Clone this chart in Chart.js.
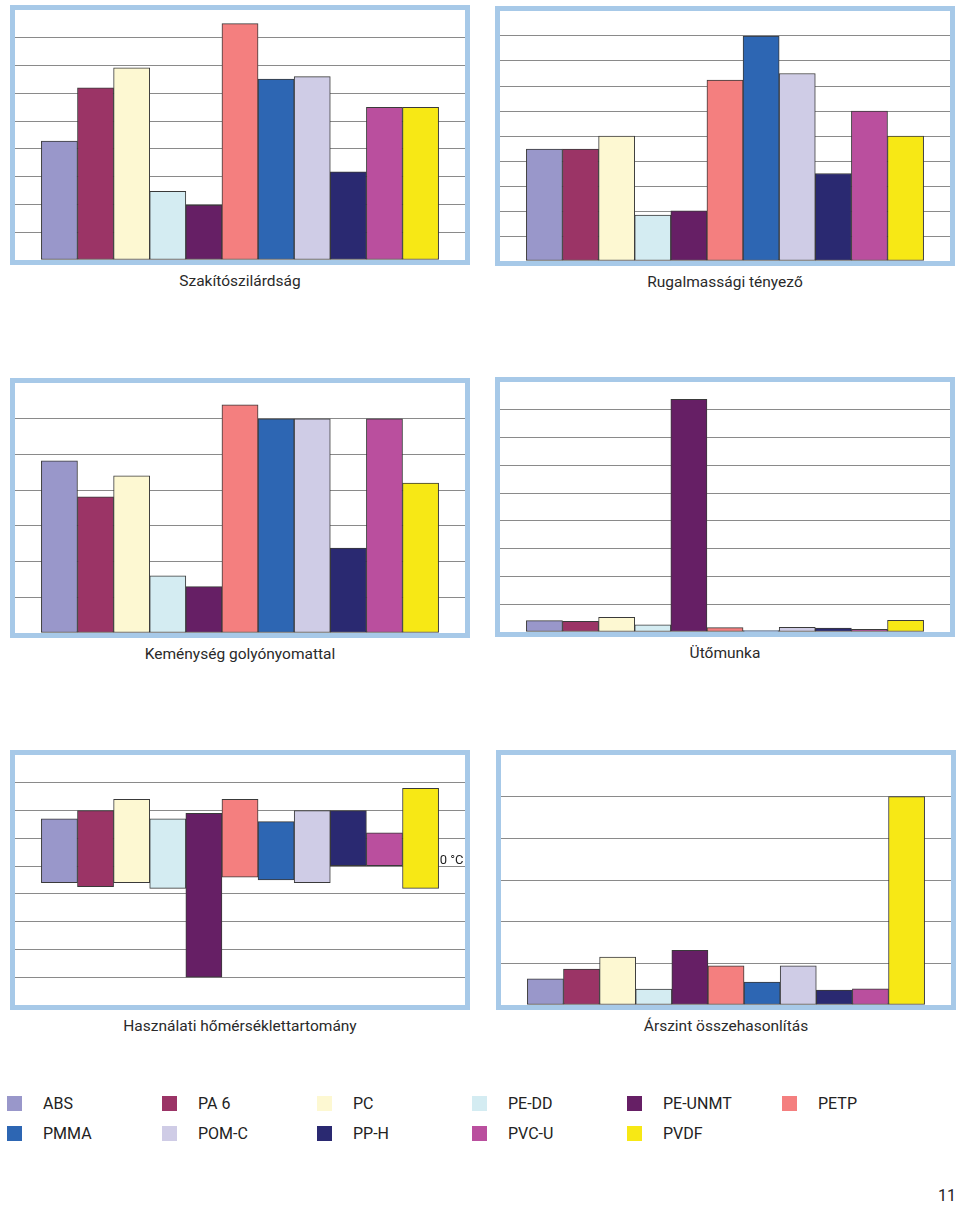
<!DOCTYPE html>
<html>
<head>
<meta charset="utf-8">
<script src="https://cdn.jsdelivr.net/npm/chart.js@4.4.0/dist/chart.umd.min.js"></script>
<style>
body { margin: 0; width: 960px; height: 1205px; background: #fff; position: relative; overflow: hidden;
       font-family: Roboto, "Noto Sans", sans-serif; color: #222; }
.frame { position: absolute; border: 5px solid #a7c9e8; background: #fff; }
.frame canvas { display: block; }
.ttl { position: absolute; width: 460px; text-align: center; font-size: 15.5px; line-height: 20px; color: #2a2a2a; }
.lg { position: absolute; font-size: 16px; line-height: 16px; }
.lg i { position: absolute; left: 0; top: 0; width: 15px; height: 15px; }
.lg span { position: absolute; left: 36px; top: 0; white-space: nowrap; }
.pgnum { position: absolute; left: 938px; top: 1186px; font-size: 16px; }
</style>
</head>
<body>
<div class="pgnum">11</div>
<script>
// anyagok és színek
var materials = ["ABS", "PA 6", "PC", "PE-DD", "PE-UNMT", "PETP", "PMMA", "POM-C", "PP-H", "PVC-U", "PVDF"];
var materialColors = ["#9997ca", "#9b3466", "#fdf8d2", "#d4ecf2", "#661f65", "#f47f7f",
                      "#2d66b3", "#cfcce6", "#2a2971", "#ba4f9e", "#f7e815"];

// értékek rácsegységben (leolvasva)
var tensileStrength = [4.28, 6.2, 6.92, 2.47, 1.98, 8.51, 6.51, 6.6, 3.17, 5.5, 5.5];
var elasticModulus = [4.48, 4.48, 5.0, 1.84, 2.01, 7.24, 9.0, 7.5, 3.5, 6.0, 5.0];
var ballHardness = [4.82, 3.81, 4.4, 1.6, 1.3, 6.39, 6.0, 6.0, 2.38, 6.0, 4.2];
var impactWork = [0.41, 0.38, 0.53, 0.26, 8.38, 0.16, 0.05, 0.17, 0.14, 0.1, 0.42];
var tempMin = [-30, -37, -30, -40, -200, -20, -25, -30, 0, 0, -40];
var tempMax = [85, 100, 120, 85, 95, 120, 80, 100, 100, 60, 140];
var priceLevel = [0.63, 0.86, 1.15, 0.38, 1.31, 0.94, 0.55, 0.94, 0.36, 0.39, 5.0];

var panelTitles = ["Szakítószilárdság", "Rugalmassági tényező", "Keménység golyónyomattal",
                   "Ütőmunka", "Használati hőmérséklettartomány", "Árszint összehasonlítás"];

var zeroLabel = "0 °C";

var panels = [
    { left: 15, top: 10, min: 0, max: 9, step: 1, data: tensileStrength },
    { left: 500, top: 11, min: 0, max: 10, step: 1, data: elasticModulus },
    { left: 15, top: 383, min: 0, max: 7, step: 1, data: ballHardness },
    { left: 500, top: 382, min: 0, max: 9, step: 1, data: impactWork },
    { left: 15, top: 755, min: -250, max: 200, step: 50, data: tempMin.map(function (v, i) { return [v, tempMax[i]]; }), zero: true },
    { left: 501, top: 755, min: 0, max: 6, step: 1, data: priceLevel }
];

var zeroLabelPlugin = {
    id: 'zeroLabel',
    afterDatasetsDraw: function (chart) {
        if (!chart.options.plugins.zeroLabel.show) {
            return;
        }
        var meta = chart.getDatasetMeta(0);
        var last = meta.data[meta.data.length - 1];
        var y = chart.scales.y.getPixelForValue(0);
        var ctx = chart.ctx;
        ctx.save();
        ctx.font = '13px Roboto';
        ctx.fillStyle = '#222';
        ctx.textBaseline = 'alphabetic';
        ctx.fillText(zeroLabel, last.x + last.width / 2 + 1, y - 2);
        ctx.restore();
    }
};

function makePanel(p, idx) {
    var frame = document.createElement('div');
    frame.className = 'frame';
    frame.style.left = (p.left - 5) + 'px';
    frame.style.top = (p.top - 5) + 'px';
    var canvas = document.createElement('canvas');
    canvas.width = 450;
    canvas.height = 250;
    canvas.style.width = '450px';
    canvas.style.height = '250px';
    frame.appendChild(canvas);
    document.body.appendChild(frame);

    var ttl = document.createElement('div');
    ttl.className = 'ttl';
    ttl.textContent = panelTitles[idx];
    ttl.style.left = (p.left - 5) + 'px';
    ttl.style.top = (p.top + 250 + 11) + 'px';
    document.body.appendChild(ttl);

    new Chart(canvas, {
        type: 'bar',
        data: {
            datasets: [{
                data: p.data.map(function (v, i) { return { x: i, y: v }; }),
                backgroundColor: materialColors,
                borderColor: '#3a3a3a',
                borderWidth: 1,
                borderSkipped: false,
                categoryPercentage: 1,
                barPercentage: 1
            }]
        },
        options: {
            responsive: false,
            animation: false,
            layout: { padding: 0 },
            plugins: {
                legend: { display: false },
                tooltip: { enabled: false },
                zeroLabel: { show: !!p.zero }
            },
            scales: {
                x: {
                    type: 'linear', display: false, offset: false,
                    min: -1.23, max: 11.23,
                    ticks: { stepSize: 1, includeBounds: false }
                },
                y: {
                    min: p.min,
                    max: p.max,
                    ticks: { display: false, stepSize: p.step },
                    border: { display: false },
                    grid: {
                        drawTicks: false,
                        lineWidth: 1,
                        color: function (c) {
                            if (c.tick && (c.tick.value === p.max || (p.min < 0 && c.tick.value === p.min))) {
                                return 'rgba(0,0,0,0)';
                            }
                            return '#8a8a8a';
                        }
                    }
                }
            }
        },
        plugins: [zeroLabelPlugin]
    });
}

panels.forEach(makePanel);

// jelmagyarázat
materials.forEach(function (m, i) {
    var col = i % 6;
    var row = Math.floor(i / 6);
    var item = document.createElement('div');
    item.className = 'lg';
    item.style.left = (7 + col * 155) + 'px';
    item.style.top = (1096 + row * 30) + 'px';
    item.innerHTML = '<i style="background:' + materialColors[i] + '"></i><span></span>';
    item.querySelector('span').textContent = m;
    document.body.appendChild(item);
});
</script>
</body>
</html>
